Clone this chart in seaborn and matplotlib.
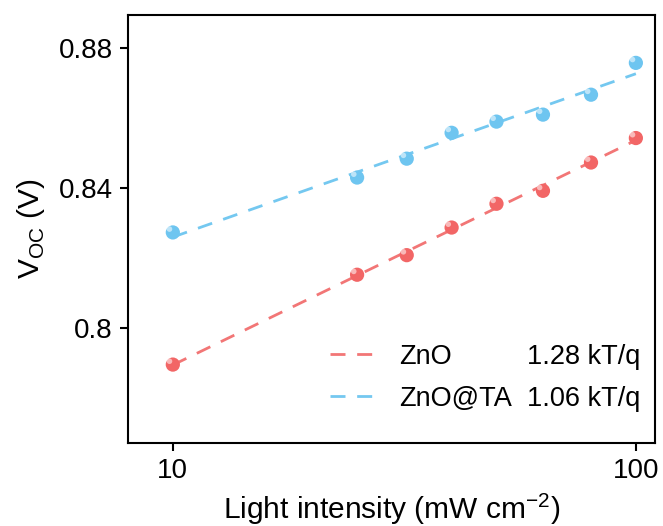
import numpy as np
import pandas as pd
import matplotlib
matplotlib.use("Agg")
import matplotlib.pyplot as plt
import matplotlib.transforms as mtransforms
import seaborn as sns

# ---- data ----
intensity = [10, 25, 32, 40, 50, 63, 80, 100]
voc_zno = [0.7894, 0.8151, 0.8207, 0.8286, 0.8354, 0.8391, 0.8472, 0.8542]
voc_zno_ta = [0.8272, 0.8429, 0.8483, 0.8557, 0.8589, 0.8609, 0.8666, 0.8757]
series_names = ["ZnO", "ZnO@TA"]
slopes_text = ["1.28 kT/q", "1.06 kT/q"]
colors = ["#F26666", "#6EC5F0"]
line_colors = ["#F27676", "#74C8F0"]

sns.set_theme(style="ticks")
plt.rcParams["font.family"] = ["Liberation Sans", "DejaVu Sans"]
plt.rcParams["text.color"] = "black"
plt.rcParams["axes.labelcolor"] = "black"

rows = []
for name, vals in zip(series_names, [voc_zno, voc_zno_ta]):
    x = np.array(intensity, dtype=float)
    y = np.array(vals)
    k, b = np.polyfit(np.log10(x), y, 1)
    for xi, yi in zip(x, y):
        rows.append({"series": name, "I": xi, "Voc": yi, "fit": k * np.log10(xi) + b})
df = pd.DataFrame(rows)

fig = plt.figure(figsize=(6.63, 5.26), dpi=100)
ax = fig.add_axes([0.193, 0.158, 0.795, 0.8135])

pal = dict(zip(series_names, colors))
lpal = dict(zip(series_names, line_colors))

DASH = (5.4, 4.2)
sns.lineplot(data=df, x="I", y="fit", hue="series", palette=lpal, ax=ax,
             linewidth=2.0, legend=True, zorder=2)
for ln in ax.get_lines():
    ln.set_dashes(DASH)

sns.scatterplot(data=df, x="I", y="Voc", hue="series", palette=pal, ax=ax,
                s=105, edgecolor="none", legend=False, zorder=3)
# highlight for sphere look
off = mtransforms.ScaledTranslation(-2.4 / 72, 2.4 / 72, fig.dpi_scale_trans)
ax.scatter(df["I"], df["Voc"], s=16, color="white", alpha=0.55,
           edgecolor="none", zorder=4, transform=ax.transData + off)

ax.set_xscale("log")
ax.set_xlim(8.0, 110)
ax.set_ylim(0.767, 0.8894)
ax.set_xticks([10, 100])
ax.set_xticklabels(["10", "100"])
ax.xaxis.set_minor_locator(matplotlib.ticker.NullLocator())
ax.set_yticks([0.80, 0.84, 0.88])
ax.set_yticklabels(["0.8", "0.84", "0.88"])

for sp in ax.spines.values():
    sp.set_visible(True)
    sp.set_linewidth(1.5)
    sp.set_color("black")
ax.tick_params(axis="both", direction="out", length=6, width=1.5,
               labelsize=20, colors="black", pad=5)

ax.set_xlabel("Light intensity (mW cm$^{\\mathregular{-2}}$)", fontsize=21.5, labelpad=5)
ax.set_ylabel("V$_{\\mathregular{OC}}$ (V)", fontsize=21.5, labelpad=8)

h, l = ax.get_legend_handles_labels()
for hh in h:
    hh.set_dashes(DASH)
leg = ax.legend(h, l, loc="lower left", bbox_to_anchor=(0.362, 0.047),
                bbox_transform=ax.transAxes, frameon=False, fontsize=19.5,
                handlelength=1.63, handletextpad=0.93, labelspacing=0.6,
                borderaxespad=0)
for t in leg.get_texts():
    t.set_color("black")
fig.canvas.draw()
texts = leg.get_texts()
for t, s in zip(texts, slopes_text):
    bb = t.get_window_extent().transformed(ax.transAxes.inverted())
    ax.text(0.757, (bb.y0 + bb.y1) / 2, s, transform=ax.transAxes,
            fontsize=19.5, va="center", ha="left", color="black")

fig.savefig("out.png", dpi=100, facecolor="white")
